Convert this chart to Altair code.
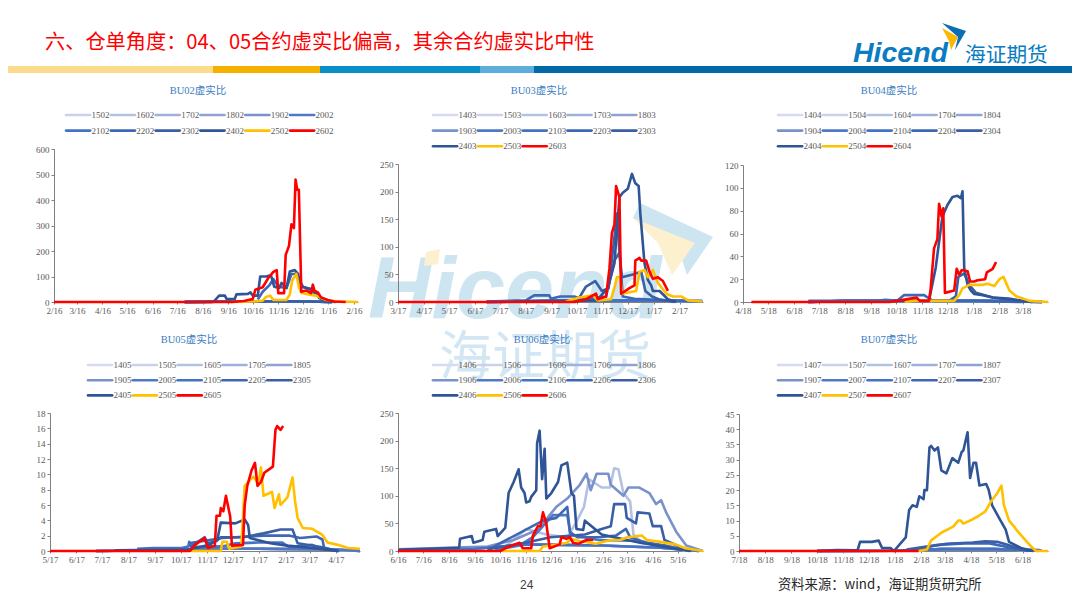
import altair as alt
import pandas as pd

BASE_YEAR = 2021
SERIF = "Liberation Serif, Noto Sans CJK SC"
CJK = "Noto Sans CJK SC"
LOGO_BLUE = "#0a7cc1"
WM_BLUE = "#cde4f1"
WM_YELLOW = "#fdf0cf"
AXIS_GRAY = "#808080"
LABEL_GRAY = "#595959"

SHADES = ["#d6dcef", "#c9d2ea", "#b4c1e2", "#a0b1da", "#8ea2d3", "#7a92cc",
          "#4f78c6", "#4472c4", "#3f68b4", "#3a5fa6", "#2f5597", "#ffc000", "#ff0000"]

BAND_START = [8, 213, 320, 480, 534]
BAND_END = [213, 320, 480, 534, 1072]
BAND_COLOR = ["#fcdc8b", "#f5b100", "#0a8ec6", "#5eaedd", "#006aa6"]

HEADLINE = "\u516d\u3001\u4ed3\u5355\u89d2\u5ea6\uff1a04\u300105\u5408\u7ea6\u865a\u5b9e\u6bd4\u504f\u9ad8\uff0c\u5176\u4f59\u5408\u7ea6\u865a\u5b9e\u6bd4\u4e2d\u6027"
SOURCE = "\u8d44\u6599\u6765\u6e90\uff1awind\uff0c\u6d77\u8bc1\u671f\u8d27\u7814\u7a76\u6240"

# ---------- BU02 ----------
NAMES_02 = ["1502", "1602", "1702", "1802", "1902", "2002", "2102", "2202", "2302", "2402", "2502", "2602"]
LOW_02 = [("07-25", 0), ("09-01", 1), ("11-15", 3), ("12-20", 2), ("01-20", 0)]
BU02_2202 = [("10-22", 10), ("10-28", 40), ("11-05", 65), ("11-10", 90), ("11-16", 60), ("11-26", 55), ("12-02", 110), ("12-08", 110), ("12-16", 60), ("12-24", 50), ("01-05", 20), ("01-20", 0)]
BU02_2402 = [("07-25", 0), ("08-29", 0), ("09-05", 25), ("09-12", 25), ("09-14", 12), ("09-24", 12), ("09-26", 30), ("10-10", 32), ("10-13", 38), ("10-16", 25), ("10-22", 25), ("10-25", 100), ("11-01", 100), ("11-07", 105), ("11-11", 60), ("11-17", 55), ("11-20", 75), ("11-26", 55), ("11-30", 120), ("12-06", 125), ("12-10", 110), ("12-14", 60), ("12-28", 50), ("01-05", 15), ("01-13", 2), ("01-25", 0)]
BU02_2502 = [("09-20", 0), ("10-16", 2), ("10-28", 5), ("11-01", 20), ("11-06", 25), ("11-10", 8), ("11-26", 8), ("11-30", 30), ("12-03", 85), ("12-08", 110), ("12-11", 60), ("12-14", 35), ("12-23", 30), ("01-01", 25), ("01-13", 8), ("01-28", 2), ("02-21", 0)]
BU02_2602 = [("02-16", 0), ("09-20", 0), ("10-05", 4), ("10-16", 12), ("10-19", 48), ("10-28", 58), ("11-04", 95), ("11-10", 118), ("11-14", 125), ("11-16", 35), ("11-23", 35), ("11-25", 185), ("11-29", 220), ("12-02", 305), ("12-05", 290), ("12-07", 480), ("12-09", 440), ("12-11", 440), ("12-14", 40), ("12-20", 45), ("12-26", 35), ("12-28", 68), ("12-30", 45), ("01-03", 38), ("01-07", 18), ("01-15", 8), ("01-23", 2), ("02-06", 0)]

# ---------- BU03 ----------
NAMES_03 = ["1403", "1503", "1603", "1703", "1803", "1903", "2003", "2103", "2203", "2303", "2403", "2503", "2603"]
LOW_03 = [("07-01", 0), ("09-15", 2), ("11-15", 3), ("01-15", 3), ("03-16", 1)]
BU03_2203 = [("07-01", 1), ("08-17", 3), ("08-27", 12), ("09-14", 12), ("09-16", 6), ("09-27", 10), ("10-14", 10), ("10-22", 5), ("11-21", 10), ("12-01", 75), ("12-07", 90), ("12-11", 10), ("12-25", 6), ("02-01", 3), ("03-16", 2)]
BU03_2303 = [("10-18", 3), ("10-28", 28), ("11-08", 38), ("11-16", 20), ("11-24", 25), ("12-02", 130), ("12-04", 160), ("12-07", 90), ("12-10", 45), ("12-23", 50), ("01-02", 55), ("01-07", 20), ("01-15", 10), ("01-23", 5), ("02-10", 0)]
BU03_2403 = [("08-01", 1), ("11-10", 3), ("11-23", 25), ("12-01", 70), ("12-07", 190), ("12-11", 198), ("12-17", 205), ("12-22", 232), ("12-26", 215), ("12-30", 210), ("01-01", 160), ("01-06", 70), ("01-10", 40), ("01-14", 30), ("01-16", 20), ("01-24", 20), ("02-03", 5), ("02-13", 0)]
BU03_2503 = [("10-04", 1), ("10-20", 8), ("11-05", 12), ("11-11", 3), ("11-27", 5), ("12-01", 25), ("12-04", 45), ("12-08", 45), ("12-10", 15), ("12-27", 20), ("12-31", 55), ("01-06", 58), ("01-10", 45), ("01-16", 58), ("01-22", 35), ("02-01", 15), ("02-09", 10), ("02-19", 10), ("02-27", 3), ("03-16", 1)]
BU03_2603 = [("03-17", 0), ("10-15", 0), ("10-28", 5), ("11-09", 15), ("11-11", 5), ("11-21", 10), ("11-25", 60), ("11-28", 125), ("12-01", 140), ("12-03", 210), ("12-07", 190), ("12-09", 15), ("12-19", 25), ("12-25", 30), ("12-26", 75), ("12-31", 80), ("01-02", 75), ("01-08", 75), ("01-12", 55), ("01-16", 42), ("01-22", 45), ("01-28", 38), ("02-03", 20)]

# ---------- BU04 ----------
NAMES_04 = ["1404", "1504", "1604", "1704", "1804", "1904", "2004", "2104", "2204", "2304", "2404", "2504", "2604"]
LOW_04 = [("07-05", 0), ("08-20", 1), ("10-10", 1), ("12-20", 1), ("02-01", 1), ("04-10", 0)]
BU04_2204 = [("07-05", 1), ("09-25", 1), ("10-05", 2), ("10-19", 1), ("10-27", 6), ("11-20", 6), ("12-01", 1), ("01-15", 1), ("03-18", 0)]
BU04_2304 = [("12-20", 1), ("12-28", 5), ("12-31", 22), ("01-07", 25), ("01-13", 15), ("01-21", 8), ("02-10", 4), ("03-10", 1), ("03-30", 0)]
BU04_2404 = [("10-15", 1), ("11-26", 1), ("12-04", 30), ("12-12", 75), ("12-18", 85), ("12-24", 92), ("12-30", 93), ("01-03", 91), ("01-05", 97), ("01-07", 30), ("01-11", 15), ("01-15", 10), ("01-19", 7), ("01-29", 6), ("02-10", 4), ("03-01", 3), ("03-28", 0)]
BU04_2504 = [("10-28", 0), ("11-09", 1), ("12-26", 1), ("01-01", 6), ("01-05", 12), ("01-13", 15), ("01-29", 15), ("02-04", 16), ("02-12", 14), ("02-18", 20), ("02-23", 22), ("02-27", 15), ("03-02", 10), ("03-10", 5), ("03-18", 3), ("03-26", 1), ("04-17", 0)]
BU04_2604 = [("04-28", 0), ("10-10", 0), ("10-19", 1), ("11-11", 4), ("11-15", 1), ("11-26", 1), ("11-28", 12), ("12-02", 47), ("12-06", 55), ("12-08", 86), ("12-11", 75), ("12-13", 82), ("12-15", 8), ("12-26", 10), ("12-29", 29), ("01-01", 24), ("01-04", 28), ("01-11", 27), ("01-14", 18), ("01-19", 18), ("01-23", 19), ("02-01", 20), ("02-03", 26), ("02-10", 29), ("02-14", 35)]

# ---------- BU05 ----------
NAMES_05 = ["1405", "1505", "1605", "1705", "1805", "1905", "2005", "2105", "2205", "2305", "2405", "2505", "2605"]
LOW_05 = [("07-10", 0), ("09-15", 0.1), ("11-15", 0.3), ("01-15", 0.3), ("04-15", 0.2), ("05-15", 0)]
BU05_2105 = [("08-27", 0.3), ("09-15", 0.4), ("09-29", 0.4), ("10-18", 0.4), ("10-26", 0.6), ("10-27", 1.2), ("10-30", 0.5), ("12-05", 0.6), ("12-20", 1), ("01-15", 1.1), ("02-13", 1.1), ("02-21", 0.5), ("03-20", 0.8), ("04-01", 0.3), ("04-20", 0)]
BU05_2205 = [("10-26", 1), ("11-07", 1.2), ("12-05", 1.7), ("01-22", 2), ("02-22", 2), ("03-06", 1.7), ("03-25", 1.9), ("04-01", 1.5), ("04-03", 0.4), ("04-19", 0)]
BU05_2305 = [("10-28", 0.5), ("11-14", 1.8), ("11-18", 1), ("11-28", 1.3), ("12-03", 1.8), ("12-29", 1.8), ("01-22", 2.3), ("02-11", 2.8), ("02-25", 2.8), ("03-03", 1), ("04-01", 0.5), ("04-19", 0)]
BU05_2405 = [("08-01", 0.1), ("10-26", 0.2), ("11-20", 0.8), ("11-29", 1.5), ("12-03", 3.7), ("12-20", 3.6), ("12-31", 4.1), ("01-04", 3.4), ("01-06", 1.7), ("01-30", 1), ("02-19", 0.7), ("03-20", 0.4), ("04-20", 0)]
BU05_2505 = [("10-29", 0), ("12-03", 0), ("12-05", 1.2), ("12-10", 1.2), ("12-13", 0.3), ("12-27", 0.6), ("12-31", 8.5), ("01-10", 9.7), ("01-16", 8.8), ("01-19", 10.9), ("01-22", 7.2), ("02-01", 7.7), ("02-04", 5.6), ("02-09", 7.4), ("02-11", 6), ("02-19", 7), ("02-25", 9.6), ("02-28", 6.5), ("03-03", 4.3), ("03-09", 3), ("03-20", 2.9), ("04-01", 2.1), ("04-07", 1.1), ("04-19", 0.8), ("05-01", 0.4), ("05-15", 0.3)]
BU05_2605 = [("05-17", 0), ("10-28", 0), ("11-03", 0.8), ("11-14", 1.7), ("11-18", 0.4), ("11-26", 0.7), ("11-28", 4.6), ("12-02", 4.6), ("12-03", 5.6), ("12-06", 5.2), ("12-09", 7.2), ("12-14", 4.5), ("12-16", 0.7), ("12-29", 0.8), ("12-31", 6), ("01-03", 8.5), ("01-08", 10.5), ("01-12", 11.5), ("01-15", 8.5), ("01-19", 9), ("01-23", 10.2), ("02-02", 11), ("02-05", 15.8), ("02-07", 16.3), ("02-11", 15.8), ("02-14", 16.3)]

# ---------- BU06 ----------
NAMES_06 = ["1406", "1506", "1606", "1706", "1806", "1906", "2006", "2106", "2206", "2306", "2406", "2506", "2606"]
LOW_06 = [("06-20", 2), ("09-15", 4), ("11-15", 12), ("02-15", 10), ("04-25", 6), ("06-10", 0)]
BU06_1606 = [("10-20", 5), ("11-16", 40), ("12-10", 30), ("01-04", 25), ("01-14", 50), ("01-24", 80), ("01-30", 130), ("02-14", 115), ("02-24", 115), ("03-01", 150), ("03-06", 148), ("03-12", 105), ("03-20", 90), ("03-24", 30), ("04-03", 15), ("05-01", 10), ("05-26", 0)]
BU06_1906 = [("06-16", 3), ("10-01", 8), ("11-01", 20), ("12-02", 40), ("12-14", 65), ("12-22", 80), ("01-04", 95), ("01-19", 120), ("01-27", 140), ("02-01", 110), ("02-08", 140), ("02-22", 140), ("02-25", 120), ("03-12", 100), ("03-18", 115), ("03-31", 115), ("04-12", 105), ("04-20", 85), ("04-26", 92), ("05-02", 70), ("05-14", 35), ("05-26", 10), ("06-15", 0)]
BU06_2006 = [("10-10", 2), ("11-08", 10), ("11-24", 25), ("12-18", 65), ("01-04", 65), ("01-08", 30), ("02-10", 20), ("04-01", 18), ("05-20", 2)]
BU06_2206 = [("10-01", 2), ("12-06", 55), ("12-22", 60), ("01-04", 80), ("01-07", 35), ("01-16", 25), ("02-12", 25), ("03-03", 28), ("03-15", 40), ("03-20", 25), ("04-08", 15), ("05-01", 10), ("05-30", 0)]
BU06_2306 = [("10-01", 3), ("11-15", 15), ("12-15", 25), ("01-25", 30), ("02-14", 40), ("02-25", 45), ("03-01", 85), ("03-14", 85), ("03-16", 60), ("03-27", 50), ("03-29", 70), ("04-12", 68), ("04-16", 45), ("04-26", 45), ("04-30", 20), ("05-30", 0)]
BU06_2406 = [("06-16", 2), ("08-10", 5), ("08-28", 6), ("08-29", 22), ("09-12", 27), ("09-14", 15), ("09-25", 20), ("09-27", 35), ("10-11", 40), ("10-13", 27), ("10-22", 42), ("10-26", 105), ("11-01", 125), ("11-07", 148), ("11-10", 115), ("11-14", 105), ("11-16", 88), ("11-20", 90), ("11-22", 98), ("11-28", 110), ("11-29", 195), ("12-02", 218), ("12-05", 130), ("12-08", 185), ("12-10", 95), ("12-16", 105), ("12-24", 125), ("12-28", 155), ("01-04", 160), ("01-09", 105), ("01-12", 100), ("01-15", 40), ("01-23", 38), ("01-25", 55), ("02-06", 40), ("02-14", 30), ("03-01", 25), ("04-01", 15), ("05-10", 5), ("06-01", 0)]
BU06_2506 = [("10-18", 0), ("12-02", 0), ("12-06", 8), ("12-16", 10), ("01-04", 15), ("01-08", 22), ("01-19", 18), ("02-07", 13), ("02-25", 20), ("03-08", 20), ("03-17", 25), ("04-03", 28), ("04-09", 20), ("04-23", 17), ("05-13", 12), ("05-25", 5), ("06-15", 0)]
BU06_2606 = [("06-16", 0), ("10-16", 0), ("10-22", 5), ("11-08", 15), ("11-12", 5), ("11-22", 5), ("11-24", 28), ("11-30", 45), ("12-03", 45), ("12-06", 70), ("12-10", 50), ("12-14", 5), ("12-26", 12), ("12-28", 25), ("01-03", 22), ("01-07", 25), ("01-11", 15), ("01-17", 13), ("01-27", 20), ("02-04", 20)]

# ---------- BU07 ----------
NAMES_07 = ["1407", "1507", "1607", "1707", "1807", "1907", "2007", "2107", "2207", "2307", "2407", "2507", "2607"]
LOW_07 = [("10-18", 0), ("01-20", 0.1), ("03-15", 0.6), ("05-15", 0.6), ("07-10", 0.2)]
BU07_2207 = [("02-01", 0.5), ("03-10", 2), ("04-10", 2.5), ("05-10", 2.5), ("06-01", 1.2), ("06-25", 0)]
BU07_2307 = [("01-25", 0), ("03-01", 1.5), ("03-20", 2.4), ("04-20", 2.8), ("05-05", 3.2), ("05-19", 3), ("06-01", 2), ("06-16", 0.5), ("07-01", 0)]
BU07_2407 = [("10-18", 0), ("11-10", 0.3), ("12-05", 0.2), ("12-08", 3), ("12-22", 3), ("12-30", 3.4), ("01-03", 1), ("01-13", 1), ("01-17", 0), ("01-31", 4.5), ("02-04", 13.5), ("02-08", 15), ("02-13", 14.5), ("02-16", 18), ("02-21", 17), ("02-22", 20), ("02-25", 20), ("02-28", 34), ("03-02", 34.5), ("03-06", 33), ("03-10", 34), ("03-14", 26.5), ("03-20", 25.5), ("03-27", 30.5), ("04-03", 29), ("04-07", 32.5), ("04-09", 33), ("04-14", 39), ("04-17", 24), ("04-21", 29), ("04-24", 29), ("04-28", 21.5), ("05-06", 22), ("05-09", 20), ("05-13", 15), ("05-21", 11), ("05-29", 7), ("06-02", 3), ("06-16", 1), ("06-30", 0)]
BU07_2507 = [("02-15", 0), ("02-25", 0.5), ("03-02", 3.5), ("03-14", 6), ("03-28", 8), ("04-03", 10), ("04-06", 10), ("04-09", 9), ("04-17", 10), ("04-27", 11.5), ("05-05", 13), ("05-11", 16), ("05-19", 19), ("05-24", 21.5), ("05-27", 15), ("06-02", 10), ("06-08", 8), ("06-12", 6.5), ("06-20", 4), ("06-28", 1.5), ("07-04", 0), ("07-18", 0)]
BU07_2607 = [("07-18", 0), ("02-15", 0)]


def dated(points, start_md):
    """Attach a year to month-day readings that run forward from the axis start."""
    rows, year, prev = [], None, None
    for md, val in points:
        m, d = int(md[:2]), int(md[3:])
        if year is None:
            year = BASE_YEAR if (m, d) >= start_md else BASE_YEAR + 1
        elif (m, d) < prev:
            year += 1
        prev = (m, d)
        rows.append((f"{year}-{m:02d}-{d:02d}", val))
    return rows


def dt(year, month, day):
    return alt.DateTime(year=year, month=month, date=day, utc=True)


def panel(title, names, explicit, low, start, end_md, n_ticks, y_max, y_step,
          cell_h, x_range, y_top, leg_x, leg_cols, leg_y0, leg_step, title_x, title_y):
    shades = SHADES[-len(names):]
    rows = []
    for name, colour in zip(names, shades):
        for date, val in dated(explicit.get(name, low), start):
            rows.append({"s": name, "c": colour, "d": date, "v": val})
    frame = pd.DataFrame(rows)

    ticks = []
    for k in range(n_ticks):
        mon = (start[0] - 1 + k) % 12 + 1
        yr = BASE_YEAR + (start[0] - 1 + k) // 12
        ticks.append(dt(yr, mon, start[1]))
    end_year = BASE_YEAR + 1
    lines = alt.Chart(frame).mark_line(strokeWidth=2.6, strokeJoin="round", clip=False).encode(
        x=alt.X("d:T", title=None,
                scale=alt.Scale(type="utc", domain=[dt(BASE_YEAR, start[0], start[1]), dt(end_year, end_md[0], end_md[1])], range=x_range),
                axis=alt.Axis(values=ticks, format="%-m/%-d", grid=False, labelFont=SERIF, labelFontSize=9,
                              labelColor=LABEL_GRAY, domainColor=AXIS_GRAY, tickColor=AXIS_GRAY, tickSize=2,
                              labelOverlap=False, labelPadding=2, labelFlush=False)),
        y=alt.Y("v:Q", title=None,
                scale=alt.Scale(domain=[0, y_max], range=[cell_h, y_top], nice=False),
                axis=alt.Axis(values=list(range(0, y_max + 1, y_step)), grid=False, labelFont=SERIF, labelFontSize=9,
                              labelColor=LABEL_GRAY, domainColor=AXIS_GRAY, tickColor=AXIS_GRAY, tickSize=3,
                              labelPadding=2, offset=-x_range[0])),
        color=alt.Color("c:N", scale=None, legend=None),
        detail="s:N",
    )

    leg = pd.DataFrame([{"n": n, "c": c, "col": i % leg_cols, "end": i % leg_cols + 0.54, "tx": i % leg_cols + 0.57, "row": i // leg_cols}
                        for i, (n, c) in enumerate(zip(names, shades))])
    n_rows = int(leg["row"].max()) + 1
    leg_xs = alt.Scale(domain=[0, leg_cols], range=[leg_x, leg_x + leg_cols * 44.8])
    leg_ys = alt.Scale(domain=[0, n_rows], range=[leg_y0, leg_y0 + n_rows * leg_step])
    leg_rule = alt.Chart(leg).mark_rule(strokeWidth=2.6, strokeCap="round").encode(
        x=alt.X("col:Q", scale=leg_xs, axis=None), x2="end:Q",
        y=alt.Y("row:Q", scale=leg_ys, axis=None),
        color=alt.Color("c:N", scale=None, legend=None))
    leg_text = alt.Chart(leg).mark_text(align="left", baseline="middle", font=SERIF, fontSize=9, color=LABEL_GRAY).encode(
        x=alt.X("tx:Q", scale=leg_xs, axis=None),
        y=alt.Y("row:Q", scale=leg_ys, axis=None),
        text="n:N")
    head = alt.Chart(alt.Data(values=[{}])).mark_text(text=title, font=SERIF, fontSize=10.5, color="#3a7cc0", align="center", baseline="middle").encode(
        x=alt.value(title_x), y=alt.value(title_y))
    return alt.layer(lines, leg_rule, leg_text, head).resolve_scale(x="independent", y="independent").properties(width=345, height=cell_h)


TOP_H = 230
BOT_H = 249

p1 = panel("BU02虚实比", NAMES_02, {"2202": BU02_2202, "2402": BU02_2402, "2502": BU02_2502, "2602": BU02_2602}, LOW_02,
           (2, 16), (2, 21), 13, 600, 100, TOP_H, [46, 350], 77, 58, 6, 43, 15.6, 190, 19)
p2 = panel("BU03虚实比", NAMES_03, {"2203": BU03_2203, "2303": BU03_2303, "2403": BU03_2403, "2503": BU03_2503, "2603": BU03_2603}, LOW_03,
           (3, 17), (3, 17), 12, 250, 50, TOP_H, [45, 350], 92, 80, 5, 43, 15.6, 186, 19)
p3 = panel("BU04虚实比", NAMES_04, {"2204": BU04_2204, "2304": BU04_2304, "2404": BU04_2404, "2504": BU04_2504, "2604": BU04_2604}, LOW_04,
           (4, 18), (4, 17), 12, 120, 20, TOP_H, [45, 350], 93, 80, 5, 43, 15.6, 191, 19)
p4 = panel("BU05虚实比", NAMES_05, {"2105": BU05_2105, "2205": BU05_2205, "2305": BU05_2305, "2405": BU05_2405, "2505": BU05_2505, "2605": BU05_2605}, LOW_05,
           (5, 17), (5, 15), 12, 18, 2, BOT_H, [42, 352], 111, 80, 5, 63, 15.2, 181, 38)
p5 = panel("BU06虚实比", NAMES_06, {"1606": BU06_1606, "1906": BU06_1906, "2006": BU06_2006, "2206": BU06_2206, "2306": BU06_2306, "2406": BU06_2406, "2506": BU06_2506, "2606": BU06_2606}, LOW_06,
           (6, 16), (6, 15), 12, 250, 50, BOT_H, [45, 350], 111, 80, 5, 63, 15.2, 189, 38)
p6 = panel("BU07虚实比", NAMES_07, {"2207": BU07_2207, "2307": BU07_2307, "2407": BU07_2407, "2507": BU07_2507, "2607": BU07_2607}, LOW_07,
           (7, 18), (7, 18), 12, 45, 5, BOT_H, [41, 350], 112, 80, 5, 63, 15.2, 191, 38)


# ---------- header, logo, watermark, footer ----------
def label(text, x, y, size, color, font=CJK, align="left", **kw):
    return alt.Chart(alt.Data(values=[{}])).mark_text(text=text, font=font, fontSize=size, color=color, align=align, baseline="alphabetic", **kw).encode(
        x=alt.value(x), y=alt.value(y))


def shape(path, color):
    return alt.Chart(alt.Data(values=[{}])).mark_point(shape=path, size=4, filled=True, fill=color, opacity=1, strokeWidth=0).encode(
        x=alt.value(0), y=alt.value(0))


bands = alt.Chart(pd.DataFrame({"a": BAND_START, "b": BAND_END, "c": BAND_COLOR})).mark_rect().encode(
    x=alt.X("a:Q", scale=alt.Scale(domain=[8, 1080], range=[0, 1072]), axis=None), x2="b:Q",
    y=alt.value(58), y2=alt.value(65),
    color=alt.Color("c:N", scale=None, legend=None))

header = alt.layer(
    shape("M632,195 L705,229 L679,267 L672,245 L625,210 Z", WM_BLUE),
    shape("M625,210 L687,235 L664,267 L650,235 Z", WM_YELLOW),
    label("Hicend", 360, 310, 88, WM_BLUE, font="Liberation Sans", fontStyle="italic", fontWeight="bold"),
    shape("M418,244 L432,241 L430,256 L416,258 Z", WM_YELLOW),
    label("海证期货", 431, 367, 53, "#d2e7f3"),
    bands,
    label(HEADLINE, 37, 41, 20.2, "#ff0000", font=CJK),
    label("Hicend", 845, 54, 28.5, LOGO_BLUE, font="Liberation Sans", fontStyle="italic", fontWeight="bold"),
    label("海证期货", 957, 54, 20.7, LOGO_BLUE),
    shape("M934,15 L958,23 L947,42 L950,29 Z", "#0a6fb5"),
    shape("M934,20 L950,29 L943,42 L941,33 Z", "#fbb800"),
    label("24", 512, 581, 12, "#404040", font="Liberation Sans"),
    label(SOURCE, 770, 581, 13.3, "#262626"),
).resolve_scale(x="independent", y="independent").properties(width=1050, height=64)

grid = alt.concat(p1, p2, p3, p4, p5, p6, columns=3, spacing=0, bounds="flush")

chart = alt.vconcat(header, grid, spacing=0, bounds="flush", padding=0, background="white").configure_view(strokeWidth=0)

chart.save("out.html", embed_options={"renderer": "svg", "actions": False})
